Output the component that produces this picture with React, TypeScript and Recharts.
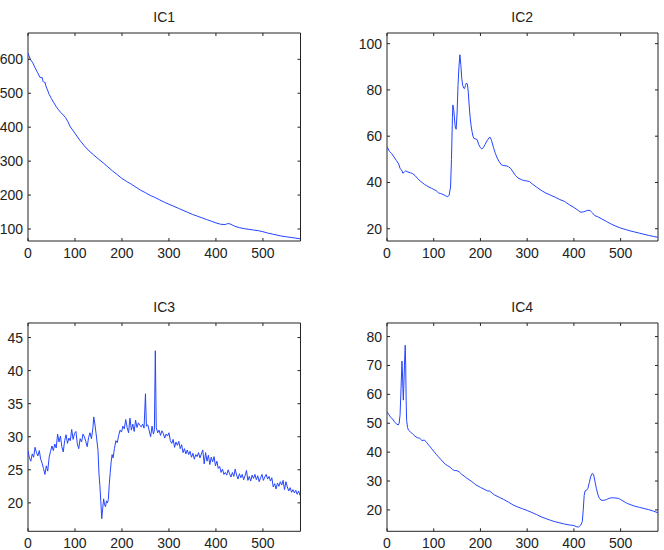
import React from "react";
import { LineChart, Line, XAxis, YAxis, ReferenceArea } from "recharts";

// x positions and values
const ic1X = [0, 5, 10, 15, 20, 25, 28, 30, 32, 34, 36, 38, 40, 45, 50, 55, 60, 65, 70, 75, 80, 85, 90, 95, 100, 110, 120, 130, 140, 150, 160, 170, 180, 190, 200, 210, 220, 230, 240, 250, 260, 270, 280, 290, 300, 310, 320, 330, 340, 350, 360, 370, 380, 390, 400, 410, 420, 425, 430, 440, 450, 460, 470, 480, 490, 500, 510, 520, 530, 540, 550, 560, 570, 580];
const ic1Y = [618, 600, 590, 575, 562, 548, 546, 547, 535, 532, 533, 522, 515, 497, 484, 472, 461, 451, 443, 436, 428, 416, 401, 392, 382, 362, 345, 330, 318, 306, 295, 283, 271, 260, 249, 240, 232, 223, 214, 207, 199, 193, 186, 179, 173, 167, 161, 155, 149, 143, 138, 133, 128, 123, 118, 114, 113, 116, 115, 108, 104, 101, 99, 97, 95, 92, 88, 85, 82, 79, 77, 75, 73, 71];

const ic2X = [0, 5, 10, 15, 20, 25, 28, 31, 34, 37, 40, 45, 50, 55, 60, 65, 70, 75, 80, 85, 90, 95, 100, 105, 110, 115, 120, 125, 130, 133, 136, 138, 140, 141, 143, 146, 148, 150, 152, 154, 156, 158, 160, 162, 164, 166, 168, 170, 172, 174, 176, 178, 180, 182, 184, 186, 190, 193, 196, 200, 203, 206, 210, 214, 218, 221, 224, 228, 232, 236, 240, 245, 250, 255, 260, 265, 270, 275, 280, 285, 290, 295, 300, 305, 310, 320, 330, 340, 350, 360, 370, 380, 390, 400, 410, 415, 420, 425, 430, 435, 440, 445, 450, 460, 470, 480, 490, 500, 510, 520, 530, 540, 550, 560, 570, 580];
const ic2Y = [55.5, 53.5, 52.5, 51, 49.5, 48, 46, 45.5, 44, 44.5, 45, 44.5, 44.2, 43.8, 43, 41.8, 40.8, 40, 39.2, 38.6, 38, 37.5, 37, 36.5, 35.5, 35.2, 34.8, 34.3, 33.8, 34.5, 38, 50, 68, 73.5, 71, 64, 63, 70, 82, 90, 95.2, 91, 85, 82, 80.8, 80.6, 82, 83, 82.5, 79, 73, 68, 64.5, 62, 60, 59, 58.8, 58.5, 56.5, 55, 54.5, 55, 56.5, 58, 59.2, 59.5, 58, 55, 52.5, 50.5, 49, 47.6, 47.3, 47.2, 46.8, 46, 44.5, 43, 42, 41.5, 41, 40.8, 40.6, 40.4, 39.5, 38, 36.6, 35.4, 34.5, 33.6, 32.6, 31.8, 30.4, 29.2, 27.8, 27.1, 27.3, 27.6, 28, 27.8, 26.8, 25.6, 25.3, 24.2, 23.1, 22, 21.1, 20.3, 19.7, 19.1, 18.6, 18.1, 17.6, 17.1, 16.7, 16.3];

const ic3X = [0, 3, 6, 9, 12, 15, 18, 21, 24, 27, 30, 33, 36, 39, 42, 45, 48, 51, 54, 57, 60, 63, 66, 69, 72, 75, 78, 81, 84, 87, 90, 93, 96, 99, 102, 105, 108, 111, 114, 117, 120, 123, 126, 129, 132, 135, 138, 140, 143, 146, 149, 151, 153, 155, 157, 159, 161, 163, 165, 167, 169, 171, 173, 175, 177, 179, 181, 184, 187, 190, 193, 196, 199, 202, 205, 208, 211, 214, 217, 220, 223, 226, 229, 232, 235, 238, 241, 244, 247, 250, 252, 255, 258, 261, 264, 267, 269, 271, 273, 276, 279, 282, 285, 288, 291, 294, 297, 300, 303, 306, 309, 312, 315, 318, 321, 324, 327, 330, 333, 336, 339, 342, 345, 348, 351, 354, 357, 360, 363, 366, 369, 372, 375, 378, 381, 384, 387, 390, 393, 396, 399, 402, 405, 408, 411, 414, 417, 420, 423, 426, 429, 432, 435, 438, 441, 444, 447, 450, 453, 456, 459, 462, 465, 468, 471, 474, 477, 480, 483, 486, 489, 492, 495, 498, 501, 504, 507, 510, 513, 516, 519, 522, 525, 528, 531, 534, 537, 540, 543, 546, 549, 552, 555, 558, 561, 564, 567, 570, 573, 576, 579];
const ic3Y = [27.9, 26.8, 26.3, 27.4, 26.9, 28.4, 27.6, 27.1, 27.9, 26.6, 26.0, 25.2, 24.3, 25.6, 24.8, 26.9, 27.8, 28.6, 27.9, 28.9, 28.3, 30.4, 29.2, 30.1, 28.5, 27.7, 29.4, 30.3, 29.0, 29.8, 29.4, 31.1, 29.6, 30.5, 30.8, 28.9, 28.2, 29.7, 29.2, 30.4, 30.0, 29.3, 28.5, 29.9, 30.6, 29.7, 31.2, 33.0, 31.6, 29.8, 27.9, 24.5, 22.6, 20.2, 17.6, 19.2, 20.6, 19.7, 19.4, 20.3, 20.0, 20.5, 22.8, 24.6, 26.2, 27.3, 26.8, 28.2, 29.4, 29.1, 30.2, 31.0, 30.7, 31.6, 31.2, 32.6, 31.4, 30.6, 32.8, 31.0, 31.9, 30.8, 32.5, 31.4, 32.1, 31.7, 31.5, 31.9, 31.3, 36.5, 31.6, 31.8, 30.9, 30.0, 31.6, 30.4, 31.0, 43.0, 31.4, 30.6, 31.0, 30.2, 30.9, 30.5, 29.8, 30.4, 30.1, 30.6, 29.4, 29.0, 29.6, 28.4, 29.2, 28.7, 29.3, 28.2, 28.8, 27.6, 28.2, 27.4, 28.0, 27.3, 27.8, 26.9, 27.5, 26.6, 27.3, 27.0, 27.6, 26.8, 27.4, 28.0, 25.9, 27.6, 26.3, 27.2, 25.8, 26.9, 26.2, 27.0, 25.6, 26.3, 25.2, 25.5, 24.6, 25.1, 24.3, 24.6, 24.2, 25.0, 24.4, 23.9, 24.6, 24.0, 25.1, 24.2, 23.6, 24.4, 23.8, 24.3, 23.5, 24.1, 24.9, 23.4, 24.0, 23.3, 24.2, 23.7, 24.3, 23.5, 24.1, 23.2, 23.8, 24.3, 23.4, 23.9, 24.3, 23.6, 24.0, 23.3, 23.8, 22.4, 22.9, 22.1, 23.0, 22.5, 23.2, 22.7, 23.4, 22.0, 23.2, 22.4, 21.8, 22.3, 21.6, 22.0, 21.5, 21.9, 21.3, 21.8, 21.1];

const ic4X = [0, 4, 8, 12, 16, 20, 24, 26, 28, 30, 32, 33, 34, 35, 36, 38, 39, 40, 41, 42, 44, 46, 50, 55, 60, 65, 70, 75, 80, 85, 90, 95, 100, 105, 110, 115, 120, 125, 130, 135, 140, 145, 150, 155, 160, 165, 170, 180, 190, 200, 210, 215, 220, 225, 230, 240, 250, 260, 270, 280, 290, 300, 310, 320, 330, 340, 350, 360, 370, 380, 390, 400, 405, 410, 415, 418, 420, 422, 424, 427, 430, 433, 436, 439, 442, 445, 448, 451, 454, 458, 462, 466, 470, 475, 480, 485, 490, 495, 500, 505, 510, 515, 520, 530, 540, 550, 560, 570, 580];
const ic4Y = [54, 53, 52, 51.5, 50.5, 49.8, 49.4, 50, 53, 62, 71.5, 68, 62, 58, 63, 73, 77, 70, 58, 51, 48.5, 47.6, 47, 46.3, 45.5, 45, 44.8, 44, 44.2, 43.3, 42.3, 41.3, 40.3, 39.3, 38.4, 37.5, 36.6, 35.8, 35.3, 34.8, 34, 33.6, 33.6, 33.1, 32.3, 31.7, 31.1, 30, 28.7, 27.8, 27, 26.6, 26.5, 25.8, 25.2, 24.4, 23.6, 22.7, 21.7, 21, 20.4, 19.8, 19.1, 18.4, 17.6, 17, 16.4, 15.9, 15.5, 15.1, 14.8, 14.6, 14.2, 14.1, 14.8, 16, 20, 25, 26.6, 26.8, 27.5, 29.5, 31.5, 32.6, 32.3, 30, 27.5, 25.5, 24.2, 23.4, 23.3, 23.4, 23.6, 24, 24.2, 24.2, 24.1, 24, 23.6, 23.1, 22.6, 22.2, 21.9, 21.3, 20.9, 20.5, 20.1, 19.6, 19];

const xTicks = [0, 100, 200, 300, 400, 500];
const ic1Ticks = [100, 200, 300, 400, 500, 600];
const ic2Ticks = [20, 40, 60, 80, 100];
const ic3Ticks = [20, 25, 30, 35, 40, 45];
const ic4Ticks = [20, 30, 40, 50, 60, 70, 80];

const FONT = '"Liberation Sans", Arial, Helvetica, sans-serif';
const INK = "#222";
const BLUE = "#2444ff";
const FS = 14;
const PAD_L = 40; // room for y labels, inside each chart
const PAD_T = 10;

interface PanelProps {
  title: string;
  xs: number[];
  ys: number[];
  yDomain: [number, number];
  yTicks: number[];
  left: number; // plot area, page coords
  top: number;
  w: number;
  h: number;
}

function Panel({ title, xs, ys, yDomain, yTicks, left, top, w, h }: PanelProps) {
  const data = xs.map((x, i) => ({ x, y: ys[i] }));

  const XTick = (props: any) => {
    const { x, payload } = props;
    return (
      <g>
        <line x1={x} x2={x} y1={PAD_T + h} y2={PAD_T + h - 3} stroke={INK} />
        <line x1={x} x2={x} y1={PAD_T} y2={PAD_T + 3} stroke={INK} />
        <text x={x} y={PAD_T + h + 16.5} textAnchor="middle" fontSize={FS} fontFamily={FONT} fill={INK}>
          {payload.value}
        </text>
      </g>
    );
  };

  const YTick = (props: any) => {
    const { y, payload } = props;
    return (
      <g>
        <line x1={PAD_L} x2={PAD_L + 3} y1={y} y2={y} stroke={INK} />
        <line x1={PAD_L + w} x2={PAD_L + w - 3} y1={y} y2={y} stroke={INK} />
        <text x={PAD_L - 5} y={y + 5} textAnchor="end" fontSize={FS} fontFamily={FONT} fill={INK}>
          {payload.value}
        </text>
      </g>
    );
  };

  return (
    <div style={{ position: "absolute", left: left - PAD_L, top: top - 30 }}>
      <div
        style={{
          position: "absolute",
          left: PAD_L,
          top: 6,
          width: w,
          textAlign: "center",
          fontFamily: FONT,
          fontSize: FS,
          lineHeight: "16px",
          color: INK,
        }}
      >
        {title}
      </div>
      <div style={{ position: "absolute", left: 0, top: 20 }}>
        <LineChart
          width={PAD_L + w + 10}
          height={PAD_T + h + 22}
          data={data}
          margin={{ top: PAD_T, right: 10, bottom: 0, left: 0 }}
          style={{ overflow: "visible" }}
        >
          <XAxis
            dataKey="x"
            type="number"
            domain={[0, 580]}
            ticks={xTicks}
            allowDataOverflow
            axisLine={false}
            tickLine={false}
            tick={XTick}
            height={22}
            interval={0}
          />
          <YAxis
            type="number"
            domain={yDomain}
            ticks={yTicks}
            allowDataOverflow
            axisLine={false}
            tickLine={false}
            tick={YTick}
            width={PAD_L}
            interval={0}
          />
          <Line
            type="linear"
            dataKey="y"
            stroke={BLUE}
            strokeWidth={1}
            dot={false}
            isAnimationActive={false}
          />
          <ReferenceArea
            x1={0}
            x2={580}
            y1={yDomain[0]}
            y2={yDomain[1]}
            fill="none"
            fillOpacity={0}
            stroke={INK}
            strokeWidth={1}
          />
        </LineChart>
      </div>
    </div>
  );
}

export default function App() {
  return (
    <div style={{ position: "absolute", left: 0, top: 0, width: 664, height: 550, background: "#fff" }}>
      <Panel title="IC1" xs={ic1X} ys={ic1Y} yDomain={[64.6, 677.6]} yTicks={ic1Ticks} left={28} top={33} w={272.5} h={208} />
      <Panel title="IC2" xs={ic2X} ys={ic2Y} yDomain={[14.7, 104.6]} yTicks={ic2Ticks} left={386.7} top={33} w={271} h={208} />
      <Panel title="IC3" xs={ic3X} ys={ic3Y} yDomain={[15.7, 47.2]} yTicks={ic3Ticks} left={28} top={322.7} w={272.5} h={208.3} />
      <Panel title="IC4" xs={ic4X} ys={ic4Y} yDomain={[12.6, 84.7]} yTicks={ic4Ticks} left={386.7} top={322.7} w={271} h={208.3} />
    </div>
  );
}
